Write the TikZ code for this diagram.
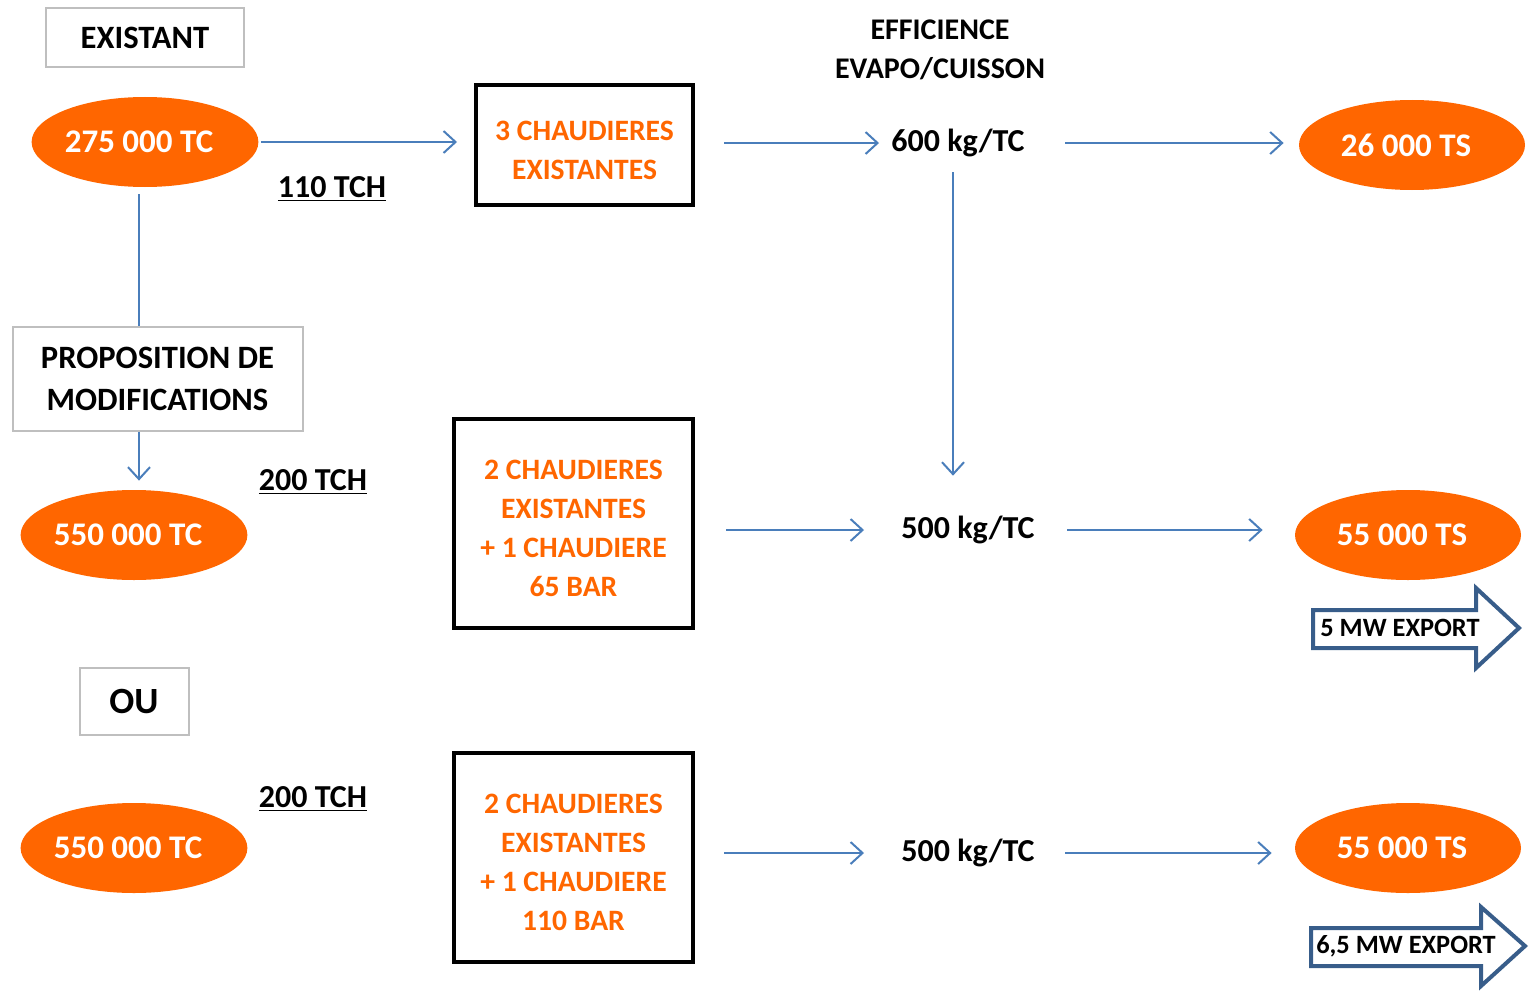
\documentclass[tikz,border=0pt]{standalone}
\usepackage{fontspec}
\setmainfont{Carlito}
\usetikzlibrary{arrows.meta,calc,positioning,shapes.geometric}
\definecolor{orng}{RGB}{255,102,0}
\definecolor{flowblue}{RGB}{74,126,187}
\definecolor{expblue}{RGB}{56,93,138}
\definecolor{boxgray}{RGB}{191,191,191}
\newcommand{\toppad}{\rule{0pt}{15pt}}
\newcommand{\lpad}{\kern6pt\rule{0pt}{0pt}}

\begin{document}
\begin{tikzpicture}[
  x=0.5pt, y=-0.5pt,
  font=\fontsize{16.3}{20.5}\selectfont\bfseries,
  oval/.style   = {ellipse, fill=orng, text=white, inner sep=0pt,
                   minimum width=113pt, minimum height=45pt,
                   font=\fontsize{16.5}{19}\selectfont\bfseries},
  boiler/.style = {draw, line width=2pt, text=orng, align=center,
                   minimum width=119.5pt, minimum height=104.5pt,
                   font=\fontsize{14.8}{19.5}\selectfont\bfseries},
  tag/.style    = {draw=boxgray, line width=1pt, fill=white, align=center},
  rate/.style   = {inner sep=0pt, font=\fontsize{16}{19}\selectfont\bfseries},
  tch/.style    = {inner sep=0pt, font=\fontsize{16}{19}\selectfont\bfseries},
  flow/.style   = {-{Straight Barb[length=6pt,width=11pt]}, line width=1pt, flowblue},
  link/.style   = {line width=1pt, flowblue},
  expo/.style   = {draw=expblue, line width=2pt, fill=white, line join=miter},
  expt/.style   = {inner sep=0pt, font=\fontsize{13.2}{15}\selectfont\bfseries},
]
\useasboundingbox (0,0) rectangle (1534,990);

% =========================== ROW 1 : existant ==============================
\node[tag, minimum width=99pt, minimum height=29.5pt] (exist) at (145,37.5) {EXISTANT};
\node[oval] (tc1) at (145,142) {275 000 TC\lpad};
\node[boiler, minimum width=108.5pt, minimum height=60pt] (boil1) at (584.5,145)
  {\toppad 3 CHAUDIERES\\EXISTANTES};
\node[align=center, inner sep=0pt, font=\fontsize{15}{19.5}\selectfont\bfseries]
  (eff) at (940,50) {EFFICIENCE\\EVAPO/CUISSON};
\node[rate] (kg1) at (958,143) {600 kg/TC};
\node[oval] (ts1) at (1412,145) {26 000 TS\lpad};
\node[tch] (t1) at (332,189) {\underline{110 TCH}};

% =========================== ROW 2 : 65 bar ================================
\node[tag, minimum width=145pt, minimum height=52pt] (prop) at (157.5,378.5)
  {PROPOSITION DE\\[0.5pt]MODIFICATIONS};
\node[oval] (tc2) at (134,535) {550 000 TC\lpad};
\node[tch] (t2) at (313,482) {\underline{200 TCH}};
\node[boiler] (boil2) at (573.5,523.5)
  {\toppad 2 CHAUDIERES\\EXISTANTES\\+ 1 CHAUDIERE\\65 BAR};
\node[rate] (kg2) at (968,530) {500 kg/TC};
\node[oval] (ts2) at (1408,535) {55 000 TS\lpad};

% =========================== ROW 3 : 110 bar ===============================
\node[tag, minimum width=54.5pt, minimum height=33.5pt,
      font=\fontsize{18.5}{20}\selectfont\bfseries] (ou) at (134,701) {OU};
\node[oval] (tc3) at (134,848) {550 000 TC\lpad};
\node[tch] (t3) at (313,799) {\underline{200 TCH}};
\node[boiler] (boil3) at (573.5,857.5)
  {\toppad 2 CHAUDIERES\\EXISTANTES\\+ 1 CHAUDIERE\\110 BAR};
\node[rate] (kg3) at (968,853) {500 kg/TC};
\node[oval] (ts3) at (1408,848) {55 000 TS\lpad};

% =========================== arrows ========================================
\coordinate (col)  at (139,0);
\coordinate (col2) at (953,0);

\draw[flow, shorten <=1pt, shorten >=8.5pt] (tc1) -- (tc1 -| boil1.west);
\draw[flow, shorten <=14.5pt, shorten >=6pt] (boil1.east |- kg1) -- (kg1.west);
\draw[flow, shorten <=20pt, shorten >=7.5pt] (kg1.east) -- (kg1.east -| ts1.west);

\draw[link, shorten <=3.5pt] (tc1.south -| col) -- (prop.north -| col);
\draw[flow, shorten >=4.5pt] (prop.south -| col) -- (tc2.north -| col);
\draw[flow, shorten <=7.5pt, shorten >=20pt] (kg1.south -| col2) -- (kg2.north -| col2);

\draw[flow, shorten <=15.5pt, shorten >=18.5pt] (boil2.east |- kg2) -- (kg2.west);
\draw[flow, shorten <=16pt, shorten >=16pt] (kg2.east) -- (kg2.east -| ts2.west);

\draw[flow, shorten <=14.5pt, shorten >=18.5pt] (boil3.east |- kg3) -- (kg3.west);
\draw[flow, shorten <=15pt, shorten >=11.5pt] (kg3.east) -- (kg3.east -| ts3.west);

% =========================== export arrows =================================
\draw[expo] (1313,610) -- (1476,610) -- (1476,588) -- (1519,628)
  -- (1476,668) -- (1476,648) -- (1313,648) -- cycle;
\node[expt] (ex1) at (1400,628) {5 MW EXPORT};

\draw[expo] (1311,928) -- (1481,928) -- (1481,907) -- (1525,946)
  -- (1481,986) -- (1481,966) -- (1311,966) -- cycle;
\node[expt] (ex2) at (1406,946) {6,5 MW EXPORT};

\end{tikzpicture}
\end{document}
